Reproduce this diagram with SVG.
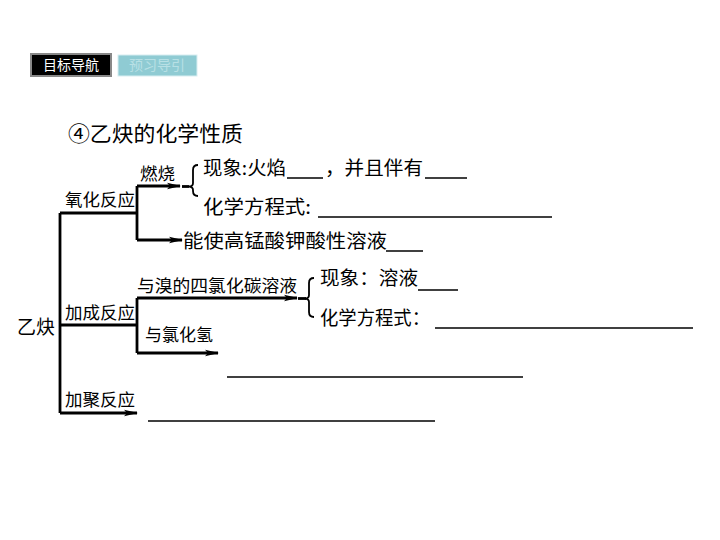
<svg xmlns="http://www.w3.org/2000/svg" width="720" height="540" viewBox="0 0 720 540">
<defs>
<marker id="ah" markerWidth="14" markerHeight="8" refX="13" refY="4" orient="auto" markerUnits="userSpaceOnUse">
<path d="M0,0.8 L14,4 L0,7.2 L3,4 Z" fill="#000"/>
</marker>
</defs>
<style>
text{font-family:"Noto Sans CJK SC","Noto Sans",sans-serif;fill:#000}
.t19{font-size:19px}
.t17{font-size:17px}
.ln{stroke:#000;stroke-width:2.8;fill:none}
.bl{stroke:#000;stroke-width:1.5;fill:none}
.br{stroke:#000;stroke-width:1.8;fill:none}
</style>
<rect width="720" height="540" fill="#fff"/>
<g id="nav1"><rect x="31" y="54" width="80" height="22" fill="#000" stroke="#888" stroke-width="2"/><text x="71" y="70" text-anchor="middle" style="font-size:14px;fill:#fff">目标导航</text></g>
<g id="nav2"><rect x="118" y="55" width="79" height="21" fill="#8fcbd3" stroke="#d8eef1" stroke-width="1"/><text x="157" y="70" text-anchor="middle" style="font-size:14px;fill:#b8e0e5">预习导引</text></g>
<g id="title"><text x="68" y="141" style="font-size:21px" textLength="175" lengthAdjust="spacingAndGlyphs">④乙炔的化学性质</text></g>
<g id="root"><text x="17" y="334" class="t19" textLength="38">乙炔</text></g>
<g id="n-oxid"><text x="65" y="206" class="t17" textLength="70" lengthAdjust="spacingAndGlyphs">氧化反应</text></g>
<g id="n-burn"><text x="140" y="180" class="t17" textLength="35" lengthAdjust="spacingAndGlyphs">燃烧</text></g>
<g id="n-phen1"><text x="203" y="175" class="t19" textLength="83" lengthAdjust="spacingAndGlyphs">现象:火焰</text><line class="bl" x1="287" y1="178" x2="323" y2="178"/><text x="325" y="175" class="t19" textLength="98" lengthAdjust="spacingAndGlyphs">，并且伴有</text><line class="bl" x1="425" y1="178" x2="467" y2="178"/></g>
<g id="n-eq1"><text x="203" y="214" class="t19" textLength="108" lengthAdjust="spacingAndGlyphs">化学方程式:</text><line class="bl" x1="318" y1="217" x2="552" y2="217"/></g>
<g id="n-kmno4"><text x="183" y="248" class="t19" textLength="204" lengthAdjust="spacingAndGlyphs">能使高锰酸钾酸性溶液</text><line class="bl" x1="386" y1="251" x2="423" y2="251"/></g>
<g id="n-add"><text x="65" y="319" class="t17" textLength="70" lengthAdjust="spacingAndGlyphs">加成反应</text></g>
<g id="n-br2"><text x="137" y="292" class="t17" textLength="160" lengthAdjust="spacingAndGlyphs">与溴的四氯化碳溶液</text></g>
<g id="n-phen2"><text x="320" y="285" class="t19" textLength="98" lengthAdjust="spacingAndGlyphs">现象：溶液</text><line class="bl" x1="418" y1="290" x2="458" y2="290"/></g>
<g id="n-eq2"><text x="320" y="325" class="t19" textLength="110" lengthAdjust="spacingAndGlyphs">化学方程式：</text><line class="bl" x1="435" y1="328" x2="693" y2="328"/></g>
<g id="n-hcl"><text x="145" y="341" class="t17" textLength="68" lengthAdjust="spacingAndGlyphs">与氯化氢</text><line class="bl" x1="227" y1="377" x2="523" y2="377"/></g>
<g id="n-poly"><text x="65" y="406" class="t17" textLength="70" lengthAdjust="spacingAndGlyphs">加聚反应</text><line class="bl" x1="148" y1="421" x2="435" y2="421"/></g>
<g id="connectors">
<path class="ln" d="M60,213 V413"/>
<path class="ln" d="M60,213 H137"/>
<path class="ln" d="M137,186 V240"/>
<path class="ln" d="M137,186 H180" marker-end="url(#ah)"/>
<path class="ln" d="M182,186.5 H189"/>
<path class="ln" d="M137,240 H182" marker-end="url(#ah)"/>
<path class="br" d="M198,165 Q193,165 193,170 V183 Q193,186.5 189,186.5 Q193,187 193,190 V191 Q193,196 198,196"/>
<path class="ln" d="M60,325 H137"/>
<path class="ln" d="M137,298 V353"/>
<path class="ln" d="M137,298 H297" marker-end="url(#ah)"/>
<path class="ln" d="M298,298.5 H306"/>
<path class="br" d="M314,278 Q309,278 309,283 V295 Q309,298.5 305,298.5 Q309,299 309,302 V312 Q309,317 314,317"/>
<path class="ln" d="M137,353 H218" marker-end="url(#ah)"/>
<path class="ln" d="M60,413 H137" marker-end="url(#ah)"/>
</g>
</svg>
